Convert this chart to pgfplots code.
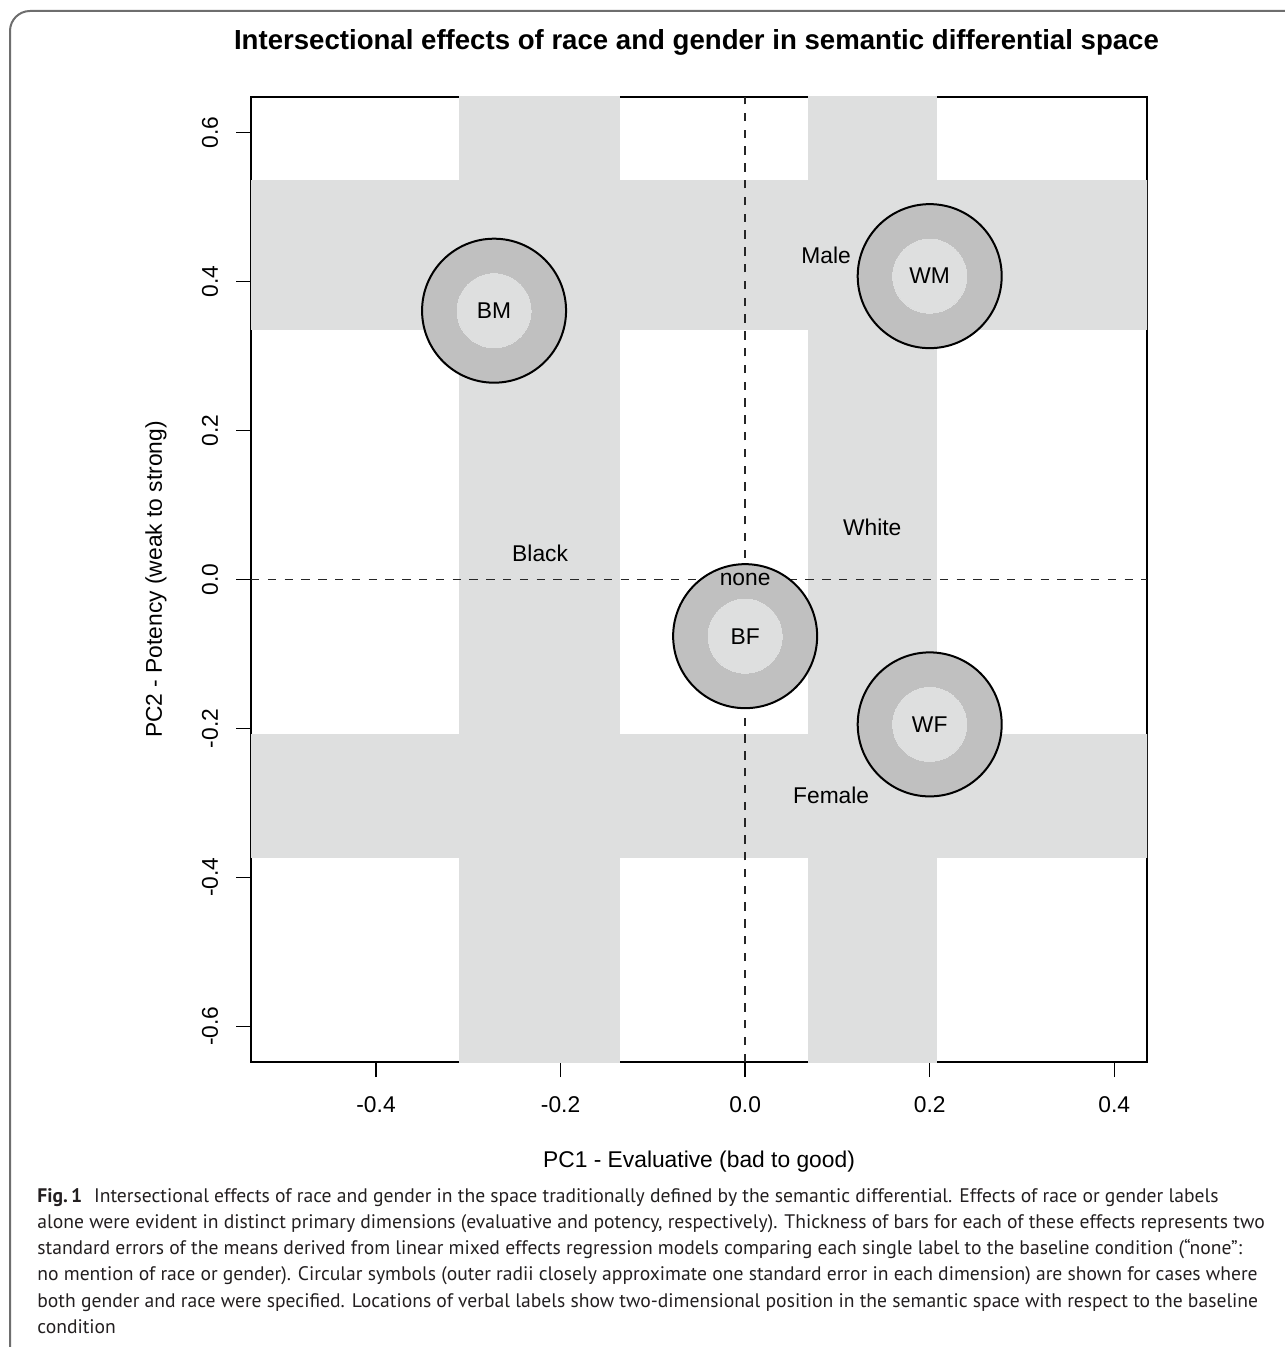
\documentclass[border=0pt]{standalone}
\usepackage{fontspec}
\setmainfont{Liberation Sans}
\newfontfamily\capfont{PT Sans}
\usepackage{pgfplots}
\pgfplotsset{compat=1.18}
\definecolor{barc}{HTML}{DEDFDF}
\definecolor{ringc}{HTML}{C0C0C0}
\definecolor{framec}{HTML}{6E6E6E}
\definecolor{captext}{HTML}{231F20}
\newcommand\capline[2]{\node[anchor=base west, inner sep=0pt, font=\capfont\fontsize{9.8}{12}\selectfont, text=captext] at (18.5pt,#1) {#2};}
\begin{document}
\begin{tikzpicture}
\path[use as bounding box] (0,0) rectangle (642pt,-673.5pt);
\draw[framec, line width=1pt, rounded corners=10pt] (5pt,-676pt) -- (5pt,-5.5pt) -- (700pt,-5.5pt);
\node[font=\fontsize{13.8}{16}\selectfont\bfseries] at (348.25pt,-21pt) {Intersectional effects of race and gender in semantic differential space};
\begin{axis}[
 at={(125.5pt,-48.5pt)}, anchor=north west,
 scale only axis, width=448pt, height=482.5pt,
 clip mode=individual,
 xmin=-0.5355, xmax=0.4355, ymin=-0.648, ymax=0.648,
 xtick={-0.4,-0.2,0,0.2,0.4}, xticklabels={-0.4,-0.2,0.0,0.2,0.4},
 ytick={-0.6,-0.4,-0.2,0,0.2,0.4,0.6}, yticklabels={-0.6,-0.4,-0.2,0.0,0.2,0.4,0.6},
 tick pos=left, tick align=outside, major tick length=7.5pt,
 every tick/.style={black, line width=0.75pt},
 axis line style={line width=0.75pt},
 ticklabel style={font=\fontsize{11.4}{13}\selectfont},
 xticklabel style={anchor=center, yshift=-14pt},
 yticklabel style={anchor=center, xshift=-13pt, rotate=90},
 xlabel={PC1 - Evaluative (bad to good)}, ylabel={PC2 - Potency (weak to strong)},
 label style={font=\fontsize{11.4}{13}\selectfont},
 xlabel style={at={(axis description cs:0.5,-0.1036)}, anchor=center},
 ylabel style={at={(axis description cs:-0.106,0.5)}, anchor=center},
]
% race bars (vertical) and gender bars (horizontal)
\addplot[fill=barc, draw=none] coordinates {(-0.310,-1) (-0.1355,-1) (-0.1355,1) (-0.310,1)} -- cycle;
\addplot[fill=barc, draw=none] coordinates {(0.0683,-1) (0.2081,-1) (0.2081,1) (0.0683,1)} -- cycle;
\addplot[fill=barc, draw=none] coordinates {(-1,0.335) (1,0.335) (1,0.537) (-1,0.537)} -- cycle;
\addplot[fill=barc, draw=none] coordinates {(-1,-0.374) (1,-0.374) (1,-0.207) (-1,-0.207)} -- cycle;
% reference lines
\addplot[black!85, line width=0.7pt, dash pattern=on 4.2pt off 4.2pt] coordinates {(0,-0.648) (0,0.648)};
\addplot[black!85, line width=0.7pt, dash pattern=on 4.2pt off 4.2pt] coordinates {(-0.5355,0) (0.4355,0)};
% intersection symbols
\addplot[black, only marks, mark=*, mark size=36pt, mark options={fill=ringc, draw=black, line width=1pt}] coordinates {(-0.2721,0.361) (0.2,0.4074) (0,-0.0761) (0.2,-0.1946)};
\addplot[barc, only marks, mark=*, mark size=18.5pt, mark options={fill=barc, draw=barc, line width=0pt}] coordinates {(-0.2721,0.361) (0.2,0.4074) (0,-0.0761) (0.2,-0.1946)};
\begin{scope}[every node/.style={font=\fontsize{11.4}{13}\selectfont}]
\node at (axis cs:-0.2721,0.361) {BM};
\node at (axis cs:0.2,0.4074) {WM};
\node at (axis cs:0,-0.0761) {BF};
\node at (axis cs:0.2,-0.1946) {WF};
\node at (axis cs:0.0878,0.4357) {Male};
\node at (axis cs:-0.2222,0.0357) {Black};
\node at (axis cs:0.1377,0.0694) {White};
\node at (axis cs:0,0.0) {none};
\node at (axis cs:0.0932,-0.2902) {Female};
\end{scope}
\end{axis}
\capline{-601pt}{\textbf{Fig.\,1}\hspace{0.6em}Intersectional effects of race and gender in the space traditionally defined by the semantic differential. Effects of race or gender labels}
\capline{-614.15pt}{alone were evident in distinct primary dimensions (evaluative and potency, respectively). Thickness of bars for each of these effects represents two}
\capline{-627.3pt}{standard errors of the means derived from linear mixed effects regression models comparing each single label to the baseline condition (“none”:}
\capline{-640.45pt}{no mention of race or gender). Circular symbols (outer radii closely approximate one standard error in each dimension) are shown for cases where}
\capline{-653.6pt}{both gender and race were specified. Locations of verbal labels show two-dimensional position in the semantic space with respect to the baseline}
\capline{-666.75pt}{condition}
\end{tikzpicture}
\end{document}
